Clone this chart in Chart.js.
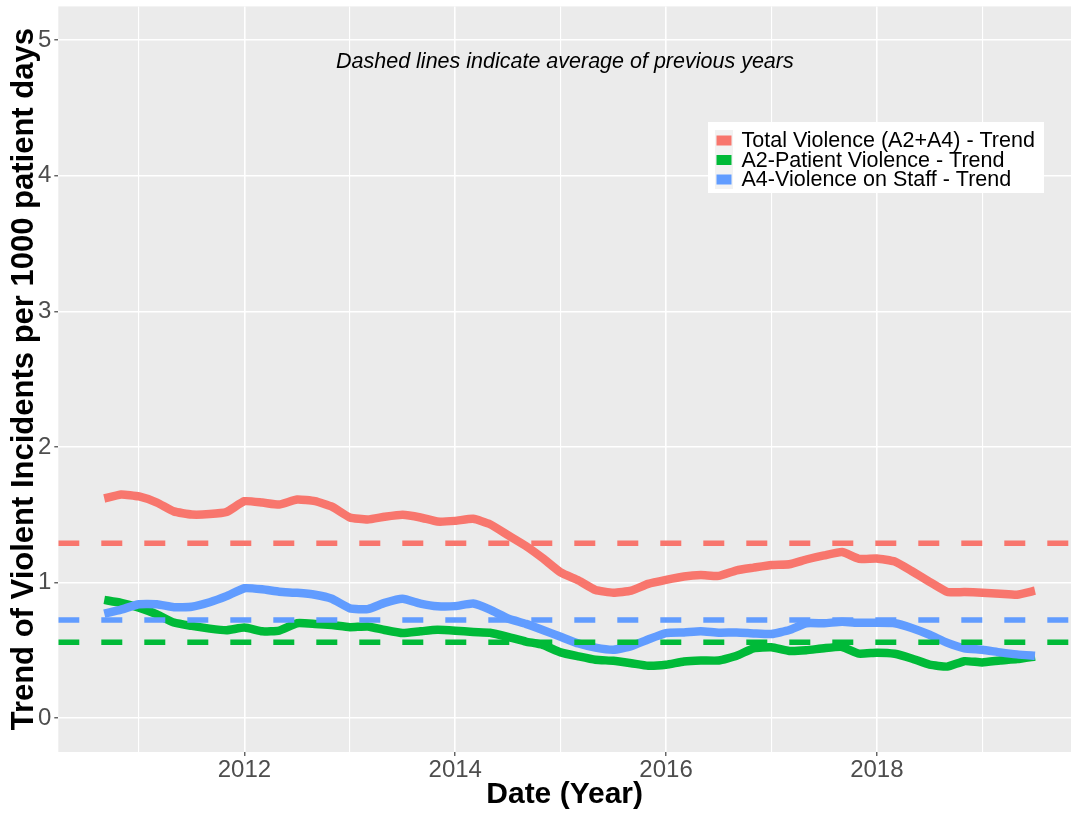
<!DOCTYPE html>
<html>
<head>
<meta charset="utf-8">
<title>Violent incidents trend</title>
<script src="https://cdn.jsdelivr.net/npm/chart.js@4.4.0/dist/chart.umd.min.js"></script>
<style>
  html, body { margin: 0; padding: 0; background: #fff; overflow: hidden; }
  #wrap { width: 1071px; height: 814px; }
</style>
</head>
<body>
<div id="wrap"><canvas id="grafico" width="1071" height="814"></canvas></div>
<script>
// fechas en años decimales (cada dos meses)
const dates = [
  2010.67, 2010.83,
  2011.00, 2011.17, 2011.33, 2011.50, 2011.67, 2011.83,
  2012.00, 2012.17, 2012.33, 2012.50, 2012.67, 2012.83,
  2013.00, 2013.17, 2013.33, 2013.50, 2013.67, 2013.83,
  2014.00, 2014.17, 2014.33, 2014.50, 2014.67, 2014.83,
  2015.00, 2015.17, 2015.33, 2015.50, 2015.67, 2015.83,
  2016.00, 2016.17, 2016.33, 2016.50, 2016.67, 2016.83,
  2017.00, 2017.17, 2017.33, 2017.50, 2017.67, 2017.83,
  2018.00, 2018.17, 2018.33, 2018.50, 2018.67, 2018.83,
  2019.00, 2019.17, 2019.33, 2019.50
];

const totalTrend = [
  1.62, 1.65,
  1.635, 1.59, 1.525, 1.502, 1.505, 1.52,
  1.60, 1.59, 1.575, 1.612, 1.60, 1.56,
  1.48, 1.465, 1.485, 1.50, 1.48, 1.45,
  1.455, 1.47, 1.43, 1.35, 1.27, 1.18,
  1.075, 1.015, 0.945, 0.925, 0.94, 0.99,
  1.02, 1.045, 1.055, 1.049, 1.09, 1.11,
  1.13, 1.135, 1.17, 1.20, 1.225, 1.175,
  1.178, 1.155, 1.085, 1.005, 0.93, 0.93,
  0.925, 0.918, 0.91, 0.94
];

const patientTrend = [
  0.872, 0.85,
  0.815, 0.765, 0.705, 0.68, 0.66, 0.648,
  0.668, 0.64, 0.646, 0.70, 0.695, 0.686,
  0.671, 0.676, 0.65, 0.627, 0.64, 0.651,
  0.645, 0.635, 0.63, 0.60, 0.565, 0.54,
  0.485, 0.455, 0.43, 0.423, 0.405, 0.386,
  0.394, 0.418, 0.425, 0.425, 0.46, 0.515,
  0.522, 0.495, 0.50, 0.516, 0.525, 0.476,
  0.483, 0.475, 0.44, 0.394, 0.38, 0.42,
  0.411, 0.425, 0.435, 0.455
];

const staffTrend = [
  0.77, 0.80,
  0.84, 0.84, 0.818, 0.822, 0.855, 0.90,
  0.958, 0.95, 0.932, 0.924, 0.91, 0.88,
  0.81, 0.804, 0.85, 0.88, 0.845, 0.825,
  0.826, 0.845, 0.80, 0.735, 0.695, 0.65,
  0.60, 0.55, 0.52, 0.504, 0.53, 0.58,
  0.627, 0.632, 0.64, 0.63, 0.632, 0.625,
  0.62, 0.65, 0.70, 0.70, 0.71, 0.703,
  0.703, 0.70, 0.665, 0.615, 0.555, 0.515,
  0.504, 0.485, 0.47, 0.46
];

// promedio de años anteriores (líneas discontinuas)
const prevAverages = [1.29, 0.56, 0.723];

const seriesNames = [
  'Total Violence (A2+A4) - Trend',
  'A2-Patient Violence - Trend',
  'A4-Violence on Staff - Trend'
];
const seriesColors = ['#F8766D', '#00BA38', '#619CFF'];

const yearGrid = [2011, 2012, 2013, 2014, 2015, 2016, 2017, 2018, 2019];
const yTicks = [0, 1, 2, 3, 4, 5];

const X_MIN = 2010.234, X_MAX = 2019.842;
const FUENTE = '"Liberation Sans", Arial, sans-serif';

function puntos(valores) {
  return dates.map((d, i) => ({ x: d, y: valores[i] }));
}

function lineaPromedio(valor, color) {
  return {
    data: [{ x: X_MIN, y: valor }, { x: X_MAX, y: valor }],
    borderColor: color,
    borderWidth: 5.5,
    borderDash: [21, 22],
    borderCapStyle: 'butt',
    pointRadius: 0
  };
}

function tendencia(valores, color) {
  return {
    data: puntos(valores),
    borderColor: color,
    borderWidth: 8.5,
    borderCapStyle: 'butt',
    borderJoinStyle: 'round',
    pointRadius: 0,
    tension: 0.15
  };
}

// fondo gris del panel
const fondoPanel = {
  id: 'fondoPanel',
  beforeDraw(chart) {
    const { ctx, chartArea: a } = chart;
    ctx.save();
    ctx.fillStyle = '#ffffff';
    ctx.fillRect(0, 0, chart.width, chart.height);
    ctx.fillStyle = '#EBEBEB';
    ctx.fillRect(a.left, a.top, a.right - a.left, a.bottom - a.top);
    ctx.restore();
  }
};

// leyenda dentro del panel + nota
const leyendaYNota = {
  id: 'leyendaYNota',
  afterDraw(chart) {
    const { ctx, scales } = chart;
    ctx.save();

    ctx.fillStyle = '#000';
    ctx.font = 'italic 21.5px ' + FUENTE;
    ctx.textAlign = 'center';
    ctx.textBaseline = 'middle';
    ctx.fillText('Dashed lines indicate average of previous years',
      scales.x.getPixelForValue(2015.04), scales.y.getPixelForValue(4.84));

    ctx.fillStyle = '#ffffff';
    ctx.fillRect(708, 122, 336, 71);
    ctx.fillStyle = '#F2F2F2';
    ctx.fillRect(715, 130, 18, 59);

    ctx.font = '21.5px ' + FUENTE;
    ctx.textAlign = 'left';
    seriesNames.forEach((nombre, i) => {
      const yc = 140.5 + i * 19.5;
      ctx.fillStyle = seriesColors[i];
      ctx.fillRect(716.5, yc - 5, 15, 10);
      ctx.fillStyle = '#000';
      ctx.fillText(nombre, 741.5, yc + 1);
    });
    ctx.restore();
  }
};

const ctx = document.getElementById('grafico').getContext('2d');
new Chart(ctx, {
  type: 'line',
  data: {
    datasets: [
      lineaPromedio(prevAverages[0], seriesColors[0]),
      lineaPromedio(prevAverages[1], seriesColors[1]),
      lineaPromedio(prevAverages[2], seriesColors[2]),
      tendencia(staffTrend, seriesColors[2]),
      tendencia(patientTrend, seriesColors[1]),
      tendencia(totalTrend, seriesColors[0])
    ]
  },
  options: {
    responsive: false,
    animation: false,
    devicePixelRatio: 1,
    layout: { padding: { top: 6.4, left: 0, right: 0, bottom: 0 } },
    plugins: { legend: { display: false }, tooltip: { enabled: false } },
    scales: {
      x: {
        type: 'linear',
        min: X_MIN,
        max: X_MAX,
        afterBuildTicks: s => { s.ticks = yearGrid.map(v => ({ value: v })); },
        afterFit: s => { s.height = 62; s.paddingLeft = 0; s.paddingRight = 0; },
        border: { display: false },
        grid: {
          color: '#ffffff',
          lineWidth: c => (c.tick && c.tick.value % 2 === 0 ? 1.6 : 1.1),
          tickColor: c => (c.tick && c.tick.value % 2 === 0 ? '#333333' : 'rgba(0,0,0,0)'),
          tickLength: 4,
          tickWidth: 1.1
        },
        ticks: {
          autoSkip: false,
          maxRotation: 0,
          padding: 0,
          color: '#4D4D4D',
          font: { family: FUENTE, size: 24 },
          callback: v => (v % 2 === 0 ? String(v) : '')
        },
        title: {
          display: true,
          text: 'Date (Year)',
          color: '#000',
          font: { family: FUENTE, size: 30, weight: 'bold' },
          padding: { top: 0, bottom: 1 }
        }
      },
      y: {
        min: -0.25,
        max: 5.25,
        afterBuildTicks: s => { s.ticks = yTicks.map(v => ({ value: v })); },
        afterFit: s => { s.width = 58.3; s.paddingTop = 0; s.paddingBottom = 0; },
        border: { display: false },
        grid: {
          color: '#ffffff',
          lineWidth: 1.6,
          tickColor: '#333333',
          tickLength: 4,
          tickWidth: 1.1
        },
        ticks: {
          padding: 3,
          color: '#4D4D4D',
          font: { family: FUENTE, size: 24 }
        },
        title: {
          display: true,
          text: 'Trend of Violent Incidents per 1000 patient days',
          color: '#000',
          font: { family: FUENTE, size: 31, weight: 'bold' },
          padding: { top: 6, bottom: 0 }
        }
      }
    }
  },
  plugins: [fondoPanel, leyendaYNota]
});
</script>
</body>
</html>
